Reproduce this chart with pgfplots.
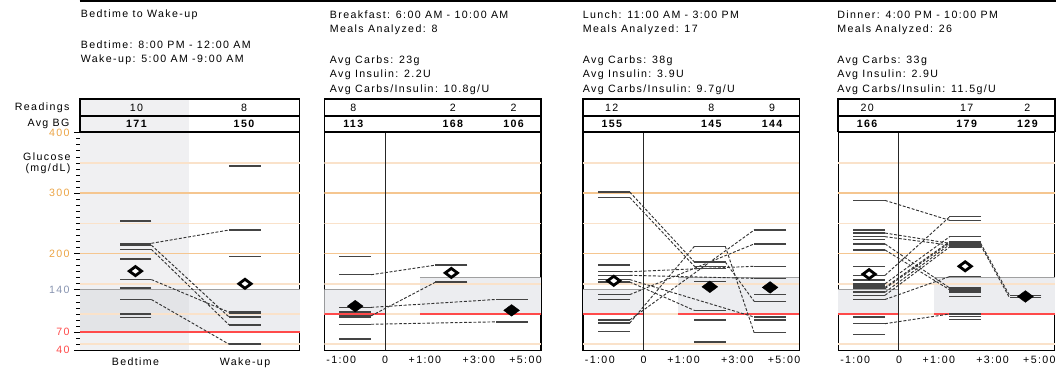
\documentclass[border=0pt]{standalone}
\usepackage{pgfplots}
\pgfplotsset{compat=1.18}
\usepackage{fontspec}
\setmainfont{Liberation Sans}[LetterSpace=13]
\definecolor{barc}{HTML}{444444}
\definecolor{connc}{HTML}{333333}
\definecolor{gridA}{HTML}{FAE2CA}
\definecolor{gridB}{HTML}{F5C690}
\definecolor{redl}{HTML}{FF4A4A}
\definecolor{band}{HTML}{ECEDF0}
\definecolor{colbg}{HTML}{F0F0F2}
\definecolor{bandd}{HTML}{E3E4E7}
\definecolor{orangeT}{HTML}{EBA445}
\definecolor{blueT}{HTML}{8894B0}
\definecolor{bandline}{HTML}{A0A0A0}
\newcommand\fs{\fontsize{8}{9.6}\selectfont}
\newcommand\conn[4]{\addplot[connst] coordinates {(#1,#2) (#3,#4)};}
\pgfplotsset{
  connst/.style={draw=connc, line width=0.7pt, dash pattern=on 2.2pt off 1.3pt, no markers},
  barsst/.style={only marks, mark=-, mark size=12pt, mark options={draw=barc, line width=1.15pt}},
  holl/.style={only marks, mark=diamond*, mark size=3.4pt, mark options={xscale=1.8, fill=white, draw=black, line width=2.1pt}},
  fdia/.style={only marks, mark=diamond*, mark size=4.4pt, mark options={xscale=1.8, fill=black, draw=black, line width=0.3pt}},
  base/.style={scale only axis, height={218.4*0.75pt}, ymin=40, ymax=400, xmin=0,
     anchor=south west, axis line style={line width=1pt, black},
     tick label style={font=\fs}, clip=true},
  meal/.style={base, width={217.5*0.75pt}, xmax=217.5, ytick=\empty,
     xtick={17,61,101,155,202}, xticklabels={-1:00,0,+1:00,+3:00,+5:00},
     major tick length=0pt, xtick pos=bottom, xticklabel style={yshift=-1pt}},
}
\begin{document}
\begin{tikzpicture}
% ---------------- Panel 1
\begin{axis}[base, at={({80.5*0.75pt},{-351.7*0.75pt})}, width={220.5*0.75pt}, xmax=220.5,
  ytick={40,70,140,200,300,400},
  yticklabels={\textcolor{redl}{40},\textcolor{redl}{70},\textcolor{blueT}{140},\textcolor{orangeT}{200},\textcolor{orangeT}{300},\textcolor{orangeT}{400}},
  minor ytick={50,60,...,390}, ytick pos=left, tick align=outside,
  major tick length=4.5pt, minor tick length=3pt,
  every tick/.style={black, line width=0.6pt},
  xtick={55.5,165.5}, xticklabels={Bedtime,Wake-up}, xtick pos=bottom,
  xtick style={draw=none}, xticklabel style={yshift=2pt}]
\fill[colbg] (axis cs:0,40) rectangle (axis cs:109.5,400);
\fill[band] (axis cs:109.5,70) rectangle (axis cs:220.5,140);
\fill[bandd] (axis cs:0,70) rectangle (axis cs:109.5,140);
\pgfplotsinvokeforeach{50,100,150,250,350}{\draw[gridA, line width=1.1pt] (axis cs:0,#1) -- (axis cs:220.5,#1);}
\pgfplotsinvokeforeach{200,300}{\draw[gridB, line width=1.1pt] (axis cs:0,#1) -- (axis cs:220.5,#1);}
\draw[bandline, line width=0.7pt] (axis cs:0,140) -- (axis cs:220.5,140);
\draw[redl, line width=1.1pt] (axis cs:0,70) -- (axis cs:220.5,70);
\conn{71.5}{217}{149.5}{239}
\conn{71.5}{214}{149.5}{95}
\conn{71.5}{207}{149.5}{82}
\conn{71.5}{157}{149.5}{103}
\conn{71.5}{124}{149.5}{50}
\addplot[barsst] coordinates {(55.5,254)(55.5,217)(55.5,214)(55.5,207)(55.5,191)(55.5,157)(55.5,143)(55.5,124)(55.5,100)(55.5,94)};
\addplot[barsst] coordinates {(165.5,345)(165.5,239)(165.5,195)(165.5,103)(165.5,101)(165.5,95)(165.5,82)(165.5,50)};
\addplot[holl] coordinates {(55.5,171)(165.5,150)};
\end{axis}
% ---------------- Panel 2 Breakfast
\begin{axis}[meal, at={({325.7*0.75pt},{-351.7*0.75pt})}]
\fill[band] (axis cs:0,100) rectangle (axis cs:61,140);
\fill[band] (axis cs:96,100) rectangle (axis cs:217.5,160);
\pgfplotsinvokeforeach{50,100,150,250,350}{\draw[gridA, line width=1.1pt] (axis cs:0,#1) -- (axis cs:217.5,#1);}
\pgfplotsinvokeforeach{200,300}{\draw[gridB, line width=1.1pt] (axis cs:0,#1) -- (axis cs:217.5,#1);}
\draw[bandline, line width=0.7pt] (axis cs:0,140) -- (axis cs:61,140);
\draw[bandline, line width=0.7pt] (axis cs:96,160) -- (axis cs:217.5,160);
\draw[redl, line width=1.1pt] (axis cs:0,100) -- (axis cs:61,100);
\draw[redl, line width=1.1pt] (axis cs:96,100) -- (axis cs:217.5,100);
\draw[black!85, line width=0.8pt] (axis cs:61,40) -- (axis cs:61,400);
\conn{47}{165}{112}{181}
\conn{47}{97}{112}{153}
\conn{47}{111}{172}{124}
\conn{47}{83}{172}{87}
\addplot[barsst] coordinates {(31,195)(31,165)(31,111)(31,103)(31,97)(31,95)(31,83)(31,59)};
\addplot[barsst] coordinates {(127.5,181)(127.5,153)};
\addplot[barsst] coordinates {(188,124)(188,87)};
\addplot[fdia] coordinates {(31,113)(188,106)};
\addplot[holl] coordinates {(127.5,168)};
\end{axis}
% ---------------- Panel 3 Lunch
\begin{axis}[meal, at={({585.3*0.75pt},{-351.7*0.75pt})}]
\fill[band] (axis cs:0,100) rectangle (axis cs:61,140);
\fill[band] (axis cs:96,100) rectangle (axis cs:217.5,160);
\pgfplotsinvokeforeach{50,100,150,250,350}{\draw[gridA, line width=1.1pt] (axis cs:0,#1) -- (axis cs:217.5,#1);}
\pgfplotsinvokeforeach{200,300}{\draw[gridB, line width=1.1pt] (axis cs:0,#1) -- (axis cs:217.5,#1);}
\draw[bandline, line width=0.7pt] (axis cs:0,140) -- (axis cs:61,140);
\draw[bandline, line width=0.7pt] (axis cs:96,160) -- (axis cs:217.5,160);
\draw[redl, line width=1.1pt] (axis cs:0,100) -- (axis cs:61,100);
\draw[redl, line width=1.1pt] (axis cs:96,100) -- (axis cs:217.5,100);
\draw[black!85, line width=0.8pt] (axis cs:61,40) -- (axis cs:61,400);
\conn{47}{302}{112}{186}
\conn{47}{293}{112}{179}
\conn{47}{85}{112}{212}
\conn{47}{90}{172}{239}
\conn{47}{132}{172}{216}
\conn{47}{170}{172}{179}
\conn{47}{164}{172}{159}
\conn{47}{157}{172}{95}
\conn{47}{153}{112}{106}
\conn{143}{212}{172}{69}
\conn{143}{186}{172}{121}
\addplot[barsst] coordinates {(31,302)(31,293)(31,181)(31,170)(31,164)(31,157)(31,153)(31,132)(31,124)(31,90)(31,85)(31,71)};
\addplot[barsst] coordinates {(127.5,212)(127.5,186)(127.5,179)(127.5,175)(127.5,154)(127.5,106)(127.5,90)(127.5,54)};
\addplot[barsst] coordinates {(188,239)(188,216)(188,179)(188,159)(188,132)(188,121)(188,95)(188,90)(188,69)};
\addplot[holl] coordinates {(31,155)};
\addplot[fdia] coordinates {(127.5,145)(188,144)};
\end{axis}
% ---------------- Panel 4 Dinner
\begin{axis}[meal, at={({841.7*0.75pt},{-351.7*0.75pt})}]
\fill[band] (axis cs:0,100) rectangle (axis cs:61,140);
\fill[band] (axis cs:96,100) rectangle (axis cs:217.5,160);
\pgfplotsinvokeforeach{50,100,150,250,350}{\draw[gridA, line width=1.1pt] (axis cs:0,#1) -- (axis cs:217.5,#1);}
\pgfplotsinvokeforeach{200,300}{\draw[gridB, line width=1.1pt] (axis cs:0,#1) -- (axis cs:217.5,#1);}
\draw[bandline, line width=0.7pt] (axis cs:0,140) -- (axis cs:61,140);
\draw[bandline, line width=0.7pt] (axis cs:96,160) -- (axis cs:217.5,160);
\draw[redl, line width=1.1pt] (axis cs:0,100) -- (axis cs:61,100);
\draw[redl, line width=1.1pt] (axis cs:96,100) -- (axis cs:217.5,100);
\draw[black!85, line width=0.8pt] (axis cs:61,40) -- (axis cs:61,400);
\conn{47}{288}{112}{255}
\conn{47}{234}{112}{217}
\conn{47}{228}{112}{214}
\conn{47}{216}{112}{143}
\conn{47}{206}{112}{140}
\conn{47}{164}{112}{261}
\conn{47}{150}{112}{228}
\conn{47}{144}{112}{220}
\conn{47}{142}{112}{218}
\conn{47}{136}{112}{215}
\conn{47}{131}{112}{211}
\conn{47}{124}{112}{162}
\conn{47}{84}{112}{100}
\conn{143}{217}{172}{131}
\conn{143}{214}{172}{127}
\addplot[barsst] coordinates {(31,288)(31,239)(31,234)(31,228)(31,223)(31,216)(31,206)(31,179)(31,164)(31,156)(31,150)(31,146)(31,144)(31,142)(31,136)(31,131)(31,124)(31,95)(31,84)(31,66)};
\addplot[barsst] coordinates {(127.5,261)(127.5,255)(127.5,228)(127.5,220)(127.5,218)(127.5,217)(127.5,215)(127.5,214)(127.5,211)(127.5,162)(127.5,143)(127.5,140)(127.5,136)(127.5,129)(127.5,100)(127.5,96)(127.5,91)};
\addplot[barsst] coordinates {(188,131)(188,127)};
\addplot[holl] coordinates {(31,166)(127.5,179)};
\addplot[fdia] coordinates {(188,129)};
\end{axis}
% ---------------- Texts and tables
\begin{scope}[x=0.75pt,y=-0.75pt]
\path[use as bounding box] (0,0) rectangle (1060,369);
\draw[line width=1.1pt] (80,0.8) -- (1060,0.8);
\tikzset{tx/.style={anchor=west, font=\fs, inner sep=0pt}, tv/.style={font=\fs, inner sep=0pt}, tb/.style={font=\fs\bfseries, inner sep=0pt}}
\node[tx] at (81,15) {Bedtime to Wake-up};
\node[tx] at (81,44.5) {Bedtime: 8:00 PM - 12:00 AM};
\node[tx] at (81,59.5) {Wake-up: 5:00 AM -9:00 AM};
\node[tx] at (331,15) {Breakfast: 6:00 AM - 10:00 AM};
\node[tx] at (331,30) {Meals Analyzed: 8};
\node[tx] at (331,61.5) {Avg Carbs: 23g};
\node[tx] at (331,75.5) {Avg Insulin: 2.2U};
\node[tx] at (331,90) {Avg Carbs/Insulin: 10.8g/U};
\node[tx] at (585,15) {Lunch: 11:00 AM - 3:00 PM};
\node[tx] at (585,30) {Meals Analyzed: 17};
\node[tx] at (585,61.5) {Avg Carbs: 38g};
\node[tx] at (585,75.5) {Avg Insulin: 3.9U};
\node[tx] at (585,90) {Avg Carbs/Insulin: 9.7g/U};
\node[tx] at (840.5,15) {Dinner: 4:00 PM - 10:00 PM};
\node[tx] at (840.5,30) {Meals Analyzed: 26};
\node[tx] at (840.5,61.5) {Avg Carbs: 33g};
\node[tx] at (840.5,75.5) {Avg Insulin: 2.9U};
\node[tx] at (840.5,90) {Avg Carbs/Insulin: 11.5g/U};
% row labels
\node[font=\fs, anchor=east, inner sep=0pt] at (70,108) {Readings};
\node[font=\fs, anchor=east, inner sep=0pt] at (70,124.5) {Avg BG};
\node[font=\fs, anchor=east, inner sep=0pt] at (71,157) {Glucose};
\node[font=\fs, anchor=east, inner sep=0pt] at (71,169.5) {(mg/dL)};
% table panel 1
\fill[colbg] (80.5,99.3) rectangle (190,132);
\draw[line width=1.1pt] (80.5,99.3) rectangle (301,132);
\draw[line width=1.1pt] (80.5,116.7) -- (301,116.7);
\node[tv] at (137,108) {10}; \node[tv] at (245,108) {8};
\node[tb] at (137,124.5) {171}; \node[tb] at (245,124.5) {150};
% table panels 2-4
\foreach \L/\a/\b/\c/\d/\e/\f in {325.7/8/2/2/113/168/106, 585.3/12/8/9/155/145/144, 841.7/20/17/2/166/179/129}{
  \draw[line width=1.1pt] (\L,99.3) rectangle ({\L+217.5},132);
  \draw[line width=1.1pt] (\L,116.7) -- ({\L+217.5},116.7);
  \node[tv] at ({\L+29},108) {\a}; \node[tv] at ({\L+129},108) {\b}; \node[tv] at ({\L+190},108) {\c};
  \node[tb] at ({\L+29},124.5) {\d}; \node[tb] at ({\L+129},124.5) {\e}; \node[tb] at ({\L+190},124.5) {\f};
}
\end{scope}
\end{tikzpicture}
\end{document}
